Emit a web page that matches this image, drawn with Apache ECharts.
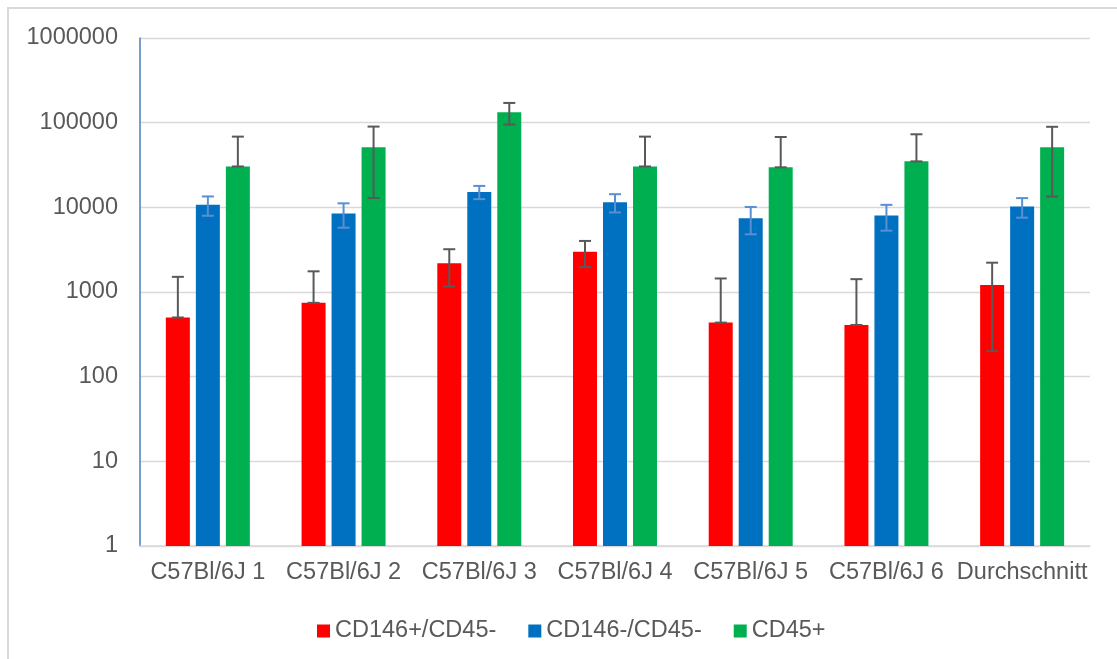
<!DOCTYPE html>
<html>
<head>
<meta charset="utf-8">
<title>CD146 / CD45</title>
<script src="https://cdn.jsdelivr.net/npm/echarts@6/dist/echarts.min.js"></script>
<style>
    html, body { margin: 0; padding: 0; background: #fff; }
    #chart_main { width: 1117px; height: 659px; }
</style>
</head>
<body>
<div id="chart_main"></div>
<script>
// 数据
var aCategories_vob = ["C57Bl/6J 1", "C57Bl/6J 2", "C57Bl/6J 3", "C57Bl/6J 4", "C57Bl/6J 5", "C57Bl/6J 6", "Durchschnitt"];
var aNames_vob = ["CD146+/CD45-", "CD146-/CD45-", "CD45+"];
var aRed_vob = [500, 745, 2180, 2990, 435, 408, 1210];
var aBlue_vob = [10700, 8450, 15200, 11500, 7450, 8000, 10200];
var aGreen_vob = [30400, 51400, 133000, 30400, 29700, 34900, 51400];
// Fehlerbalken (±)
var aRedErr_vob = [1010, 1010, 1020, 1020, 1010, 1010, 1010];
var aBlueErr_vob = [2750, 2700, 2700, 2800, 2650, 2700, 2650];
var aGreenErr_vob = [38000, 38500, 38000, 38000, 38000, 38000, 38000];
var aTicks_vob = [1, 10, 100, 1000, 10000, 100000, 1000000];

var sFont_vob = '"Liberation Sans", Arial, sans-serif';
var sText_vob = "#595959";
var aColors_vob = ["#ff0000", "#0070c0", "#00b050"];
var aErrColors_vob = ["#595959", "#5b8fd3", "#595959"];
var aOffsets_vob = [-30, 0, 30]; // px, Balkenmitte relativ zur Kategorie

// 误差线数据: [index, low, high, value]
function fnErrData_fob(aVal_vob, aErr_vob) {
    return aVal_vob.map(function (v, i) {
        var low = v - aErr_vob[i] > 0 ? v - aErr_vob[i] : v; // log axis: nicht unter 0
        return [i, low, v + aErr_vob[i], v];
    });
}

function fnErrSeries_fob(k, aData_vob) {
    return {
        type: "custom",
        name: "err_" + k,
        z: 5,
        silent: true,
        data: aData_vob,
        renderItem: function (params, api) {
            var pLow = api.coord([api.value(0), api.value(1)]);
            var pHigh = api.coord([api.value(0), api.value(2)]);
            var x = pLow[0] + aOffsets_vob[k];
            var half = 6;
            var style = { stroke: aErrColors_vob[k], lineWidth: 2 };
            return {
                type: "group",
                children: [
                    { type: "line", shape: { x1: x, y1: pHigh[1], x2: x, y2: pLow[1] }, style: style },
                    { type: "line", shape: { x1: x - half, y1: pHigh[1], x2: x + half, y2: pHigh[1] }, style: style },
                    { type: "line", shape: { x1: x - half, y1: pLow[1], x2: x + half, y2: pLow[1] }, style: style }
                ]
            };
        }
    };
}

var aValues_vob = [aRed_vob, aBlue_vob, aGreen_vob];
var aErrs_vob = [aRedErr_vob, aBlueErr_vob, aGreenErr_vob];

var aSeries_vob = aNames_vob.map(function (name, k) {
    return {
        type: "bar",
        name: name,
        data: aValues_vob[k],
        barWidth: 24,
        barGap: "25%",
        itemStyle: { color: aColors_vob[k] }
    };
});
aNames_vob.forEach(function (name, k) {
    aSeries_vob.push(fnErrSeries_fob(k, fnErrData_fob(aValues_vob[k], aErrs_vob[k])));
});

var myChart = echarts.init(document.getElementById("chart_main"), null, { renderer: "canvas" });
myChart.setOption({
    animation: false,
    backgroundColor: "#fff",
    textStyle: { fontFamily: sFont_vob, color: sText_vob },
    grid: { left: 140, right: 27, top: 38, bottom: 113, containLabel: false },
    graphic: [{
        type: "rect",
        silent: true,
        shape: { x: 8, y: 8, width: 1140, height: 700 },
        style: { fill: "none", stroke: "#d9d9d9", lineWidth: 2 }
    }],
    legend: {
        data: aNames_vob,
        left: 312,
        top: 614,
        icon: "rect",
        itemWidth: 13,
        itemHeight: 13,
        itemGap: 32,
        textStyle: { fontFamily: sFont_vob, fontSize: 23.5, color: sText_vob }
    },
    xAxis: {
        type: "category",
        data: aCategories_vob,
        axisTick: { show: false },
        axisLine: { lineStyle: { color: "#d9d9d9", width: 1.5 } },
        axisLabel: { interval: 0, margin: 15, fontFamily: sFont_vob, fontSize: 23.5, color: sText_vob }
    },
    yAxis: {
        type: "log",
        logBase: 10,
        min: aTicks_vob[0],
        max: aTicks_vob[aTicks_vob.length - 1],
        splitNumber: 6,
        axisLine: { show: true, lineStyle: { color: "#4a7ebb", width: 1.5 } },
        axisTick: { show: false },
        splitLine: { lineStyle: { color: "#d9d9d9", width: 1.3 } },
        axisLabel: {
            margin: 22,
            fontFamily: sFont_vob,
            fontSize: 23.5,
            color: sText_vob,
            formatter: function (v) { return String(Math.round(v)); }
        }
    },
    series: aSeries_vob
});
window.addEventListener("resize", function () {
    myChart.resize();
});
</script>
</body>
</html>
